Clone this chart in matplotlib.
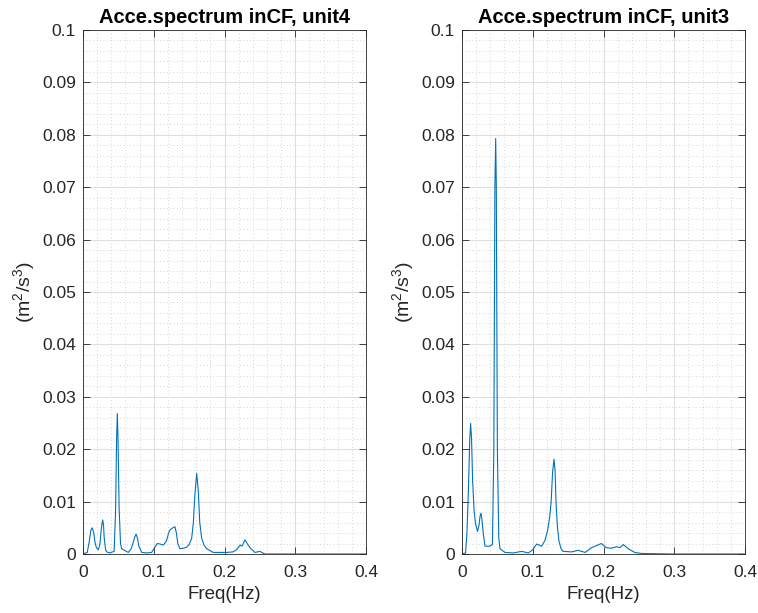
import numpy as np
import matplotlib
matplotlib.use("Agg")
import matplotlib.pyplot as plt
from matplotlib.ticker import MultipleLocator


# Spectrum values (frequency in Hz, value in m^2/s^3)
freq_unit4 = [0.0, 0.006, 0.009, 0.011, 0.013, 0.015, 0.017, 0.019, 0.0217, 0.024,
              0.026, 0.0278, 0.029, 0.030, 0.032, 0.0335, 0.038, 0.044, 0.046, 0.0475,
              0.0485, 0.0495, 0.051, 0.053, 0.0547, 0.060, 0.064, 0.068, 0.071, 0.073,
              0.075, 0.077, 0.079, 0.083, 0.090, 0.097, 0.101, 0.105, 0.109, 0.1135,
              0.118, 0.121, 0.123, 0.127, 0.130, 0.132, 0.134, 0.137, 0.142, 0.1466,
              0.150, 0.1536, 0.156, 0.158, 0.1607, 0.163, 0.165, 0.1678, 0.171, 0.175,
              0.184, 0.193, 0.203, 0.212, 0.217, 0.222, 0.2247, 0.229, 0.232, 0.236,
              0.243, 0.250, 0.257, 0.27, 0.30, 0.35, 0.40]
val_unit4 = [0.0, 0.0003, 0.0025, 0.0045, 0.0050, 0.0042, 0.0022, 0.0012, 0.0008, 0.0020,
             0.0050, 0.0065, 0.0055, 0.0030, 0.0008, 0.0004, 0.0002, 0.0005, 0.0080, 0.0220,
             0.0268, 0.0220, 0.0090, 0.0020, 0.0010, 0.0006, 0.0003, 0.0010, 0.0022, 0.0032,
             0.0038, 0.0030, 0.0015, 0.0003, 0.0002, 0.0003, 0.0012, 0.0020, 0.0019, 0.0017,
             0.0025, 0.0040, 0.0046, 0.0050, 0.0052, 0.0040, 0.0020, 0.0010, 0.0011, 0.0013,
             0.0018, 0.0030, 0.0060, 0.0110, 0.0154, 0.0120, 0.0060, 0.0030, 0.0017, 0.0010,
             0.0003, 0.0003, 0.0003, 0.0004, 0.0008, 0.0017, 0.0015, 0.0027, 0.0020, 0.0012,
             0.0003, 0.0005, 0.0, 0.0, 0.0, 0.0, 0.0]

freq_unit3 = [0.0, 0.005, 0.007, 0.009, 0.011, 0.0122, 0.0135, 0.015, 0.017, 0.019,
              0.022, 0.024, 0.0255, 0.0268, 0.028, 0.030, 0.0325, 0.0395, 0.043, 0.045,
              0.0465, 0.0476, 0.0485, 0.050, 0.052, 0.0537, 0.0607, 0.0725, 0.0843, 0.0937,
              0.100, 0.1055, 0.1125, 0.117, 0.121, 0.124, 0.126, 0.128, 0.130, 0.1315,
              0.133, 0.135, 0.137, 0.140, 0.143, 0.155, 0.164, 0.174, 0.183, 0.190,
              0.197, 0.204, 0.2115, 0.2185, 0.223, 0.228, 0.235, 0.244, 0.254, 0.30,
              0.35, 0.40]
val_unit3 = [0.0, 0.0002, 0.0040, 0.0120, 0.0220, 0.0249, 0.0220, 0.0140, 0.0085, 0.0058,
             0.0043, 0.0055, 0.0072, 0.0078, 0.0068, 0.0040, 0.0015, 0.0015, 0.0018, 0.0200,
             0.0700, 0.0793, 0.0700, 0.0200, 0.0030, 0.0010, 0.0003, 0.0002, 0.0005, 0.0002,
             0.0008, 0.0019, 0.0015, 0.0025, 0.0045, 0.0071, 0.0100, 0.0155, 0.0181, 0.0160,
             0.0095, 0.0050, 0.0025, 0.0010, 0.0005, 0.0004, 0.0007, 0.0003, 0.0012, 0.0016,
             0.0020, 0.0012, 0.0011, 0.0014, 0.0012, 0.0018, 0.0010, 0.0003, 0.0001, 0.0,
             0.0, 0.0]

titles = ["Acce.spectrum inCF, unit4", "Acce.spectrum inCF, unit3"]
x_ticks = [0, 0.1, 0.2, 0.3, 0.4]
x_tick_labels = ["0", "0.1", "0.2", "0.3", "0.4"]
y_ticks = [0, 0.01, 0.02, 0.03, 0.04, 0.05, 0.06, 0.07, 0.08, 0.09, 0.1]
y_tick_labels = ["0", "0.01", "0.02", "0.03", "0.04", "0.05", "0.06", "0.07", "0.08", "0.09", "0.1"]


plt.rcParams["font.family"] = ["Liberation Sans", "DejaVu Sans"]
plt.rcParams["mathtext.fontset"] = "custom"
plt.rcParams["mathtext.rm"] = "Liberation Sans"

line_color = "#0072BD"
axis_color = "#262626"

fig = plt.figure(figsize=(7.58, 6.13), dpi=100)
ax_left = fig.add_axes([83 / 758, 59 / 613, 283 / 758, 524 / 613])
ax_right = fig.add_axes([462 / 758, 59 / 613, 283 / 758, 524 / 613])

for ax, f, v, title in [(ax_left, freq_unit4, val_unit4, titles[0]),
                        (ax_right, freq_unit3, val_unit3, titles[1])]:
    ax.plot(f, v, color=line_color, linewidth=0.8)
    ax.set_xlim(0, 0.4)
    ax.set_ylim(0, 0.1)
    ax.set_xticks(x_ticks)
    ax.set_xticklabels(x_tick_labels)
    ax.set_yticks(y_ticks)
    ax.set_yticklabels(y_tick_labels)
    ax.xaxis.set_minor_locator(MultipleLocator(0.02))
    ax.yaxis.set_minor_locator(MultipleLocator(0.002))

    ax.grid(True, which="major", color="#dfdfdf", linewidth=0.8, linestyle="-")
    ax.grid(True, which="minor", color="#c8c8c8", linewidth=0.6, linestyle=(0, (1, 3)))
    ax.set_axisbelow(True)

    ax.tick_params(which="major", direction="in", length=5, width=0.6,
                   top=True, right=True, colors=axis_color, labelsize=12.5)
    ax.tick_params(axis="x", which="major", pad=8)
    ax.tick_params(axis="y", which="major", pad=5)
    ax.tick_params(which="minor", length=0)
    for spine in ax.spines.values():
        spine.set_color(axis_color)
        spine.set_linewidth(0.6)

    ax.set_title(title, fontsize=14.5, fontweight="bold", color="black", pad=5)
    ax.set_xlabel("Freq(Hz)", fontsize=13.5, color=axis_color, labelpad=4)
    ax.set_ylabel("(m$^{2}$/s$^{3}$)", fontsize=14, color=axis_color, labelpad=3)

fig.savefig("out.png", dpi=100)
